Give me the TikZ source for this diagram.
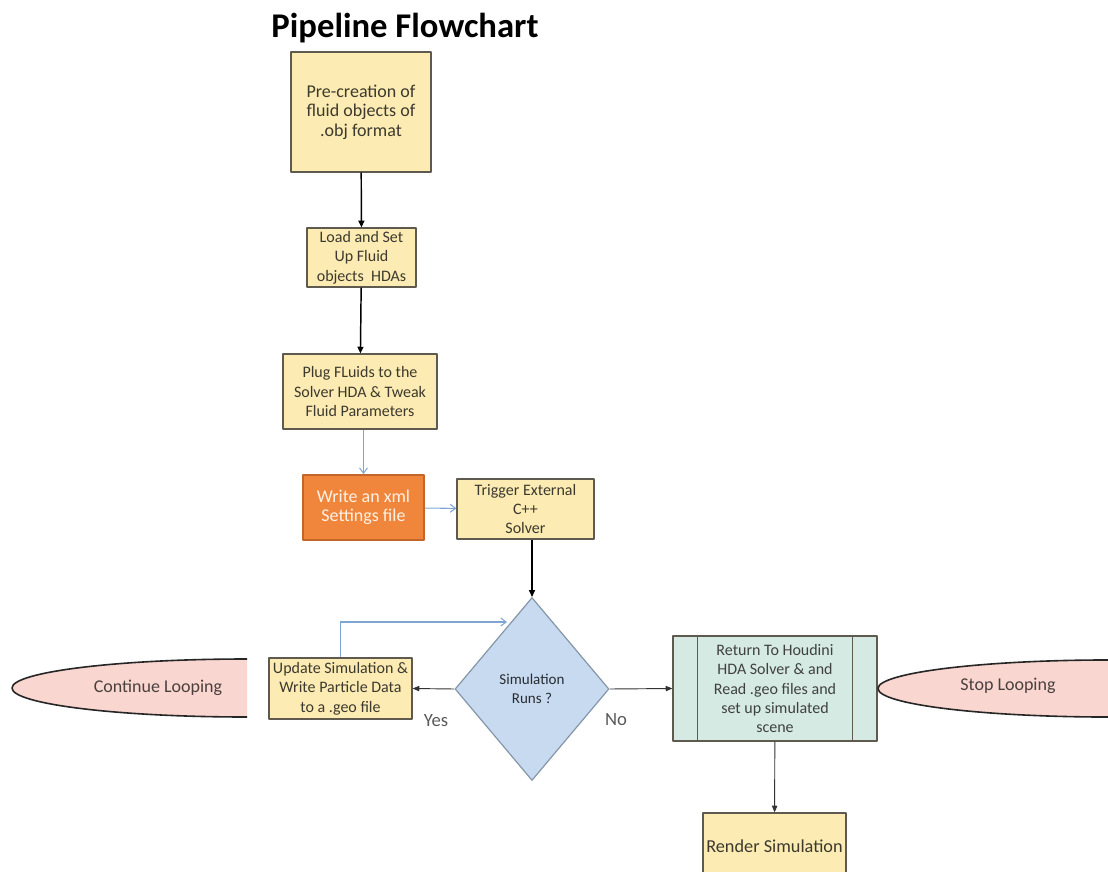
\documentclass[tikz,border=0pt]{standalone}
\usepackage{fontspec}
\setmainfont{Carlito}
\usetikzlibrary{shapes.geometric,arrows.meta}

\begin{document}
\begin{tikzpicture}[x=0.75pt,y=-0.75pt,line join=round,
  stepbox/.style={draw=boxline,line width=.9pt,fill=boxfill,text=boxtext,align=center,inner sep=2pt,
    font=\fontsize{12}{14.5}\selectfont},
  bigtext/.style={font=\fontsize{13.5}{14.5}\selectfont},
  darrow/.style={-{Triangle[length=5pt,width=4.5pt]},line width=1.1pt,black},
  thinarrow/.style={-{Triangle[length=5pt,width=4pt]},line width=.7pt,black!80},
  bluearrow/.style={-{Straight Barb[length=4pt,width=6pt]},line width=.8pt,flowblue},
  looptext/.style={text=black!70!loopfill,font=\fontsize{13.5}{15}\selectfont},
  answer/.style={text=black!65,font=\fontsize{14}{16}\selectfont}]
\definecolor{boxfill}{HTML}{FCEBB3}
\definecolor{boxline}{HTML}{5E5A50}
\definecolor{boxtext}{HTML}{3C3A2E}
\definecolor{xmlfill}{HTML}{F0853C}
\definecolor{xmlline}{HTML}{C4652A}
\definecolor{simfill}{HTML}{C8DAF0}
\definecolor{simline}{HTML}{8496A8}
\definecolor{retfill}{HTML}{D5EAE2}
\definecolor{loopfill}{HTML}{F9D6CF}
\definecolor{flowblue}{HTML}{7FA6D2}
\useasboundingbox (0,0) rectangle (1108,872);
% title
\node[font=\fontsize{26}{30}\selectfont\bfseries] (title) at (405,28) {Pipeline Flowchart};
% main column
\node[stepbox,bigtext,minimum width=105pt,minimum height=90pt] (pre) at (361,112) {Pre-creation of\\fluid objects of\\.obj format};
\node[stepbox,minimum width=81.75pt,minimum height=44.25pt] (load) at (361.5,257.5) {Load and Set\\Up Fluid\\objects\ \ HDAs};
\node[stepbox,minimum width=115.5pt,minimum height=56.25pt] (plug) at (360,391.5) {Plug FLuids\ to the\\Solver HDA\ \& Tweak\\Fluid Parameters};
\node[stepbox,bigtext,draw=xmlline,fill=xmlfill,text=white!90!orange,line width=1.4pt,minimum width=90.75pt,minimum height=48.75pt] (wxml) at (363.5,507.5) {Write an xml\\Settings file};
\node[stepbox,minimum width=102.75pt,minimum height=45pt] (trig) at (525.5,509) {Trigger External\\C++\\Solver};
\node[diamond,draw=simline,fill=simfill,line width=.9pt,text=black!70!simline,inner sep=0pt,align=center,
  minimum width=115.5pt,minimum height=137.25pt,font=\fontsize{11.3}{14}\selectfont] (sim) at (532,689) {Simulation\\Runs ?};
\node[stepbox,minimum width=107.25pt,minimum height=45.75pt] (upd) at (340.5,688.5) {Update Simulation \&\\Write Particle Data\\to a .geo file};
\node[stepbox,fill=retfill,text=black!75,minimum width=153pt,minimum height=78.75pt] (ret) at (775,688.5) {Return To Houdini\\HDA Solver \& and\\Read .geo files and\\set up simulated\\scene};
\draw[boxline,line width=.9pt] ([xshift=18.75pt]ret.north west) -- ([xshift=18.75pt]ret.south west);
\draw[boxline,line width=.9pt] ([xshift=-18.75pt]ret.north east) -- ([xshift=-18.75pt]ret.south east);
\node[stepbox,font=\fontsize{13.7}{15}\selectfont,minimum width=107.25pt,minimum height=49.5pt] (render) at (774.5,846) {Render Simulation};
% loop ends
\fill[loopfill] (247,659) arc[start angle=90,end angle=270,x radius=176.25pt,y radius=21.75pt] -- cycle;
\draw[line width=1.2pt,black!85] (247,659) arc[start angle=90,end angle=270,x radius=176.25pt,y radius=21.75pt];
\node[looptext] (contloop) at (158,688) {Continue Looping};
\filldraw[fill=loopfill,draw=black!85,line width=1.2pt] (1110,688.5) ellipse[x radius=174pt,y radius=21.4pt];
\node[looptext] (stoploop) at (1008,686) {Stop Looping};
% connectors
\draw[darrow] (pre) -- (load);
\draw[darrow] (load) -- (plug);
\draw[bluearrow] (wxml.north |- plug.south) -- (wxml.north);
\draw[bluearrow] (wxml) -- (trig);
\draw[darrow] (trig.south -| sim.north) -- (sim.north);
\draw[thinarrow] (sim.west) -- (upd.east);
\draw[thinarrow] (sim.east) -- (ret.west);
\draw[thinarrow] (ret) -- (render);
\coordinate (loopin) at (507,622);
\draw[bluearrow] (upd.north) |- (loopin);
\node[answer] (yes) at (436,721) {Yes};
\node[answer] (no) at (616,720) {No};
\end{tikzpicture}
\end{document}
